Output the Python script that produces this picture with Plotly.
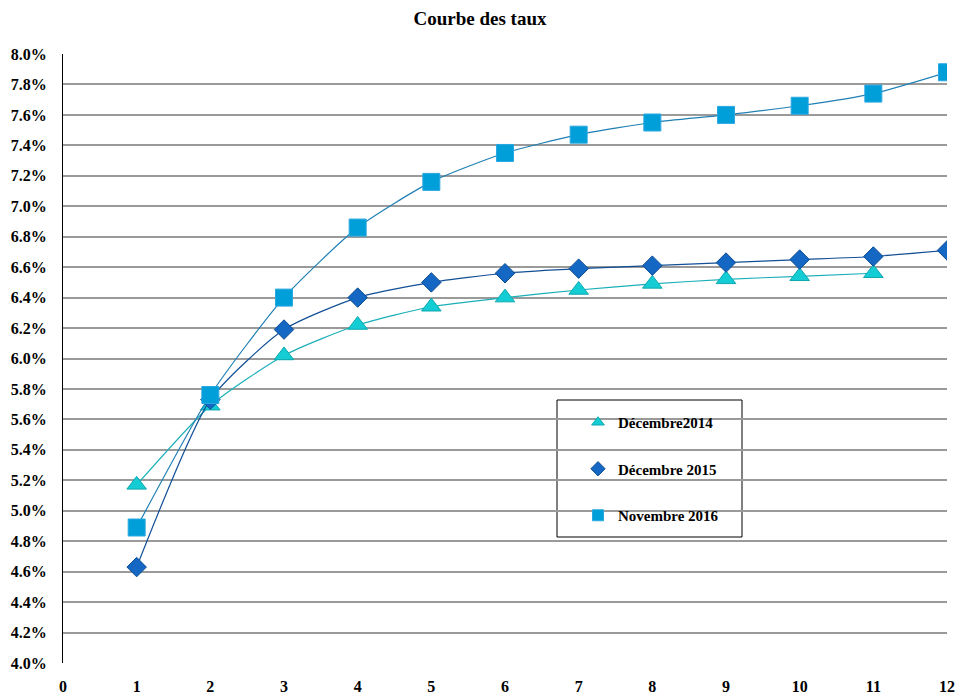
import plotly.graph_objects as go

maturities = [1, 2, 3, 4, 5, 6, 7, 8, 9, 10, 11, 12]
dec2014 = [5.17, 5.69, 6.02, 6.22, 6.34, 6.40, 6.45, 6.49, 6.52, 6.54, 6.56]
dec2015 = [4.63, 5.73, 6.19, 6.40, 6.50, 6.56, 6.59, 6.61, 6.63, 6.65, 6.67, 6.71]
nov2016 = [4.89, 5.76, 6.40, 6.86, 7.16, 7.35, 7.47, 7.55, 7.60, 7.66, 7.74, 7.88]
series_names = ["Décembre2014", "Décembre 2015", "Novembre 2016"]
y_ticks = [4.0 + 0.2 * i for i in range(21)]
x_ticks = list(range(0, 13))

W, H = 960, 699
L, R, T, B = 63, 13, 54, 36
pw, ph = W - L - R, H - T - B

def px(xp):
    return (xp - L) / pw

def py(yp):
    return (H - B - yp) / ph

styles = [
    dict(line=dict(color="#1AAFB8", width=1.2, shape="spline", smoothing=0.6),
         marker=dict(symbol="triangle-up", size=17, color="#14CCD4", line=dict(color="#0FA8B0", width=1))),
    dict(line=dict(color="#124F96", width=1.2, shape="spline", smoothing=0.6),
         marker=dict(symbol="diamond", size=15, color="#1468C4", line=dict(color="#0F4C90", width=1))),
    dict(line=dict(color="#1F7FB5", width=1.2, shape="spline", smoothing=0.6),
         marker=dict(symbol="square", size=17, color="#009FDA", line=dict(color="#2AA8E0", width=1))),
]
data = [dec2014, dec2015, nov2016]

fig = go.Figure()
for name, vals, st, grp in zip(series_names, data, styles, ["a", "b", "c"]):
    fig.add_trace(go.Scatter(
        x=maturities[:len(vals)], y=vals, name=name, mode="lines+markers",
        line=st["line"], marker=st["marker"], showlegend=False, legendgroup=grp))
for name, st, grp in zip(series_names, styles, ["a", "b", "c"]):
    m = dict(st["marker"])
    fig.add_trace(go.Scatter(
        x=[None], y=[None], name=name, mode="markers",
        marker=dict(symbol=m["symbol"], size=11, color=m["color"], line=m["line"]),
        showlegend=True, legendgroup=grp))

font_family = "Liberation Serif"

fig.add_shape(type="rect", xref="paper", yref="paper",
              x0=px(557), x1=px(742), y0=py(537), y1=py(400),
              line=dict(color="black", width=1), fillcolor="white", layer="below")

fig.update_layout(
    width=W, height=H,
    margin=dict(l=L, r=R, t=T, b=B, autoexpand=False),
    paper_bgcolor="white", plot_bgcolor="white",
    title=dict(text="<b>Courbe des taux</b>", x=0.5, xanchor="center", y=1 - 18 / H, yanchor="middle",
               font=dict(family=font_family, size=19, color="black")),
    font=dict(family=font_family, color="black"),
    showlegend=True,
    legend=dict(x=px(578), y=py(406), xanchor="left", yanchor="top",
                bgcolor="rgba(0,0,0,0)", borderwidth=0,
                font=dict(family=font_family, size=15, color="black", weight="bold"),
                tracegroupgap=24, itemsizing="trace", itemwidth=30),
    xaxis=dict(range=[0, 12], tickvals=x_ticks, ticktext=[str(v) for v in x_ticks],
               showgrid=False, zeroline=False, showline=False, automargin=False,
               ticks="", ticklabelstandoff=12,
               tickfont=dict(family=font_family, size=16, color="black", weight="bold")),
    yaxis=dict(range=[4.0, 8.0], tickvals=y_ticks, ticktext=[f"{v:.1f}%" for v in y_ticks],
               showgrid=True, gridcolor="#9A9A9A", gridwidth=1.5, zeroline=False,
               showline=True, linecolor="black", linewidth=1.2, mirror=False, automargin=False,
               ticks="", ticklabelstandoff=12,
               tickfont=dict(family=font_family, size=16, color="black", weight="bold")),
)

fig.write_html("out.html", config={"displayModeBar": False},
               post_script="document.body.style.margin='0';document.body.style.overflow='hidden';")
